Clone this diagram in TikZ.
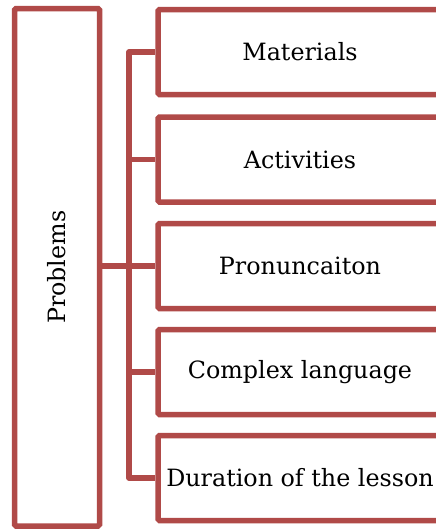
\documentclass[tikz,border=0pt]{standalone}
\usepackage{fontspec}
\setmainfont{DejaVu Serif}
\usepackage{xcolor}
\usepackage{tikz}
\definecolor{boxred}{RGB}{176,74,72}

\begin{document}
\begin{tikzpicture}[x=1pt, y=-1pt,
		every node/.style={font=\fontsize{23.8}{28}\selectfont, inner sep=0pt},
		frame/.style={draw=boxred, line width=5.5pt, rounded corners=1.5pt},
		itembox/.style={frame, minimum width=284pt, minimum height=85pt},
		link/.style={draw=boxred, line width=5.5pt, line join=round}]
		\useasboundingbox (0,0) rectangle (436,531);
		\clip (0,0) rectangle (436,531);
		% main box
		\node[frame, minimum width=85pt, minimum height=517.5pt] (problems) at (57,267.25) {};
		\node[rotate=90] at (problems.center) {Problems};
		% the five problems
		\node[itembox] (materials) at (300,52) {Materials};
		\node[itembox] (activities) at (300,159.5) {Activities};
		\node[itembox] (pronunc) at (300,266) {Pronuncaiton};
		\node[itembox] (language) at (300,372) {Complex language};
		\node[itembox] (duration) at (300,478) {Duration of the lesson};
		% bracket
		\coordinate (spine) at (129,0);
		\path[link] (materials.west) -- (materials.west -| spine) -- (duration.west -| spine) -- (duration.west);
		\path[link] (activities.west -| spine) -- (activities.west);
		\path[link] (language.west -| spine) -- (language.west);
		\path[link] (problems.east |- pronunc.west) -- (pronunc.west);
	\end{tikzpicture}
\end{document}
